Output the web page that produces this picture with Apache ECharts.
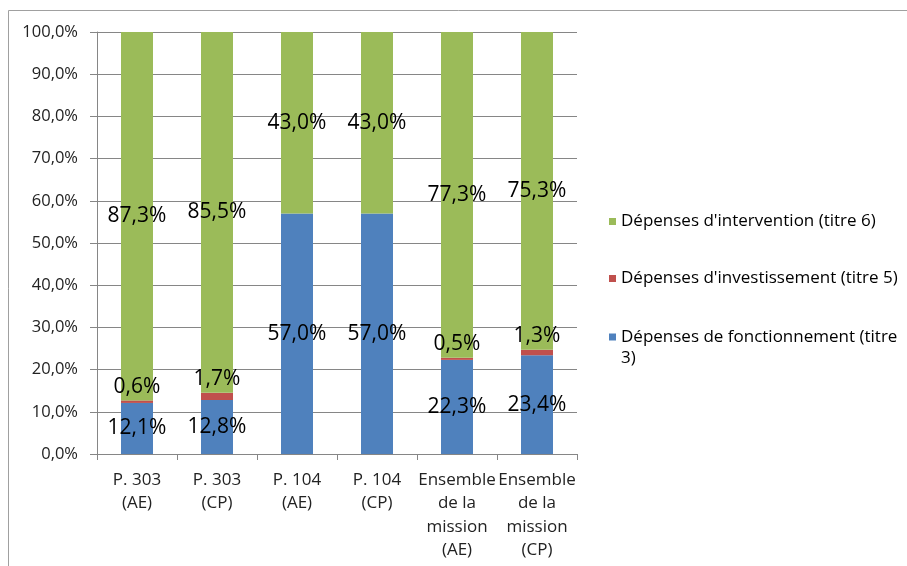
<!DOCTYPE html>
<html>
<head>
<meta charset="utf-8">
<script src="https://cdn.jsdelivr.net/npm/echarts@6/dist/echarts.min.js"></script>
<style>html,body{margin:0;padding:0;background:#fff}#c{width:907px;height:566px}</style>
</head>
<body>
<div id="c"></div>
<script>
const categories = ["P. 303\n(AE)", "P. 303\n(CP)", "P. 104\n(AE)", "P. 104\n(CP)", "Ensemble\nde la\nmission\n(AE)", "Ensemble\nde la\nmission\n(CP)"];
const fonctionnement = [12.1, 12.8, 57.0, 57.0, 22.3, 23.4];
const investissement = [0.6, 1.7, 0, 0, 0.5, 1.3];
const intervention = [87.3, 85.5, 43.0, 43.0, 77.3, 75.3];
const seriesNames = ["Dépenses de fonctionnement (titre\n3)", "Dépenses d'investissement (titre 5)", "Dépenses d'intervention (titre 6)"];
const yTicks = [0, 10, 20, 30, 40, 50, 60, 70, 80, 90, 100];

const FONT = "Open Sans";
const fmt = v => v.toFixed(1).replace('.', ',') + '%';
const labelStyle = pos => ({
  show: true, position: pos, color: '#000', fontSize: 21, fontFamily: FONT,
  textBorderWidth: 0, distance: 3,
  formatter: p => p.value === 0 ? '' : fmt(p.value)
});

const chart = echarts.init(document.getElementById('c'), null, {renderer: 'canvas'});
chart.setOption({
  animation: false,
  backgroundColor: '#fff',
  graphic: [{
    type: 'rect', shape: {x: 8.5, y: 10.5, width: 1000, height: 1000},
    style: {fill: 'none', stroke: '#a0a0a0', lineWidth: 1}, z: -1
  }],
  grid: {left: 97, top: 32, width: 480, height: 422, containLabel: false},
  legend: [
    {data: [seriesNames[2]], left: 609, top: 211},
    {data: [seriesNames[1]], left: 609, top: 268},
    {data: [seriesNames[0]], left: 609, top: 305.5, formatter: n => ' \n' + n}
  ].map(l => Object.assign({
    orient: 'vertical', padding: 0, itemWidth: 7, itemHeight: 7, itemGap: 8,
    icon: 'rect', selectedMode: false,
    textStyle: {lineHeight: 21, fontSize: 17, fontFamily: FONT, color: '#000'}
  }, l)),
  xAxis: {
    type: 'category', data: categories,
    axisLine: {lineStyle: {color: '#868686'}},
    axisTick: {show: true, length: 6, alignWithLabel: false, lineStyle: {color: '#868686'}},
    axisLabel: {interval: 0, color: '#222', fontSize: 17, fontFamily: FONT, lineHeight: 23.5, margin: 14}
  },
  yAxis: {
    type: 'value', min: 0, max: 100, interval: 10,
    axisLine: {show: true, lineStyle: {color: '#868686'}},
    axisTick: {show: true, length: 7, lineStyle: {color: '#868686'}},
    splitLine: {show: true, lineStyle: {color: '#868686'}},
    axisLabel: {color: '#222', fontSize: 16.5, fontFamily: FONT, margin: 19, formatter: v => fmt(v)}
  },
  series: [
    {name: seriesNames[0], type: 'bar', stack: 'a', data: fonctionnement, barWidth: '40%',
     itemStyle: {color: '#4F81BD'}, label: labelStyle('inside')},
    {name: seriesNames[1], type: 'bar', stack: 'a', data: investissement, barWidth: '40%',
     itemStyle: {color: '#C0504D'}, label: labelStyle('top')},
    {name: seriesNames[2], type: 'bar', stack: 'a', data: intervention, barWidth: '40%',
     itemStyle: {color: '#9BBB59'}, label: labelStyle('inside')}
  ]
});
</script>
</body>
</html>
